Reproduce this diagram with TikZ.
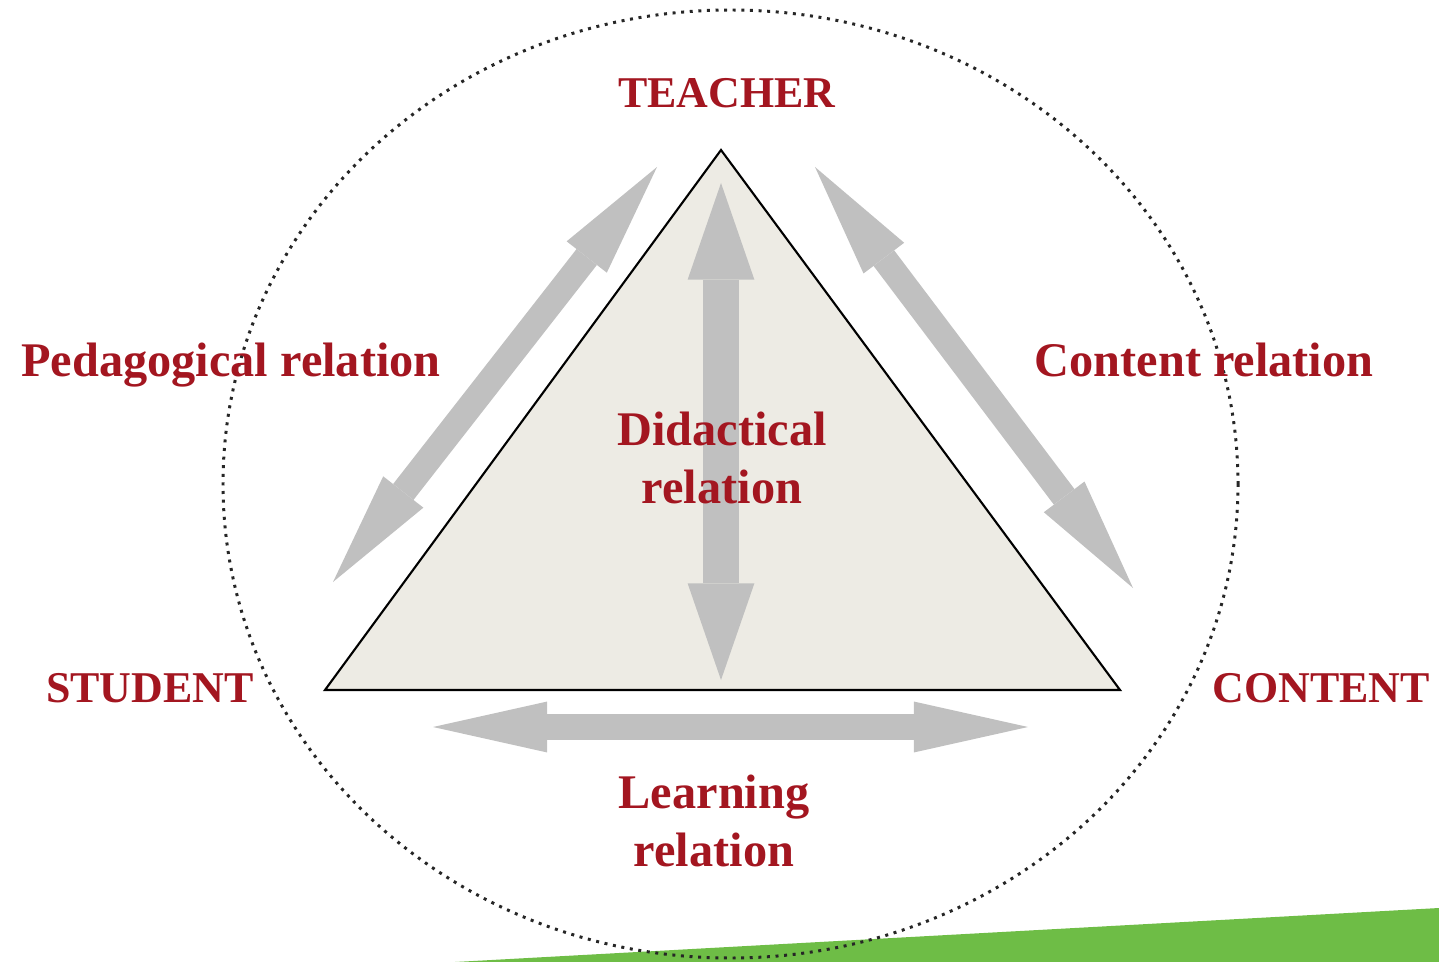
\documentclass[tikz,border=0pt]{standalone}
\usepackage{fontspec}
\setmainfont{Liberation Serif}
\usetikzlibrary{arrows.meta}
\definecolor{relred}{RGB}{163,22,32}
\definecolor{arrgray}{RGB}{192,192,192}
\definecolor{trifill}{RGB}{237,235,228}
\definecolor{stripe}{RGB}{110,189,70}
\tikzset{
	lbl/.style={text=relred, font=\fontsize{25}{30}\selectfont\bfseries, inner sep=0pt, anchor=base},
	rel/.style={lbl, font=\fontsize{27.5}{33}\selectfont\bfseries, align=center},
	fatarrow/.style={draw=arrgray, line width=14.7pt,
		{Triangle[length=65pt, width=29pt, line width=0pt]}-{Triangle[length=65pt, width=29pt, line width=0pt]}},
	bigarrow/.style={draw=arrgray, line width=20pt,
		{Triangle[length=55pt, width=38pt, line width=0pt]}-{Triangle[length=55pt, width=38pt, line width=0pt]}},
}

\begin{document}
\begin{tikzpicture}[x=0.02cm, y=-0.02cm]
	\useasboundingbox (0,0) rectangle (1439,962);
	\fill[stripe] (455,962) -- (1439,908) -- (1439,962) -- cycle;
	\draw[
	black!85, line width=1.7pt,
	dash pattern=on 1.7pt off 3.2pt,
	] (730.5,484) ellipse [x radius=507.5, y radius=474];
	\coordinate (apex) at (721,150);
	\coordinate (sw) at (325,690);
	\coordinate (se) at (1120,690);
	\draw[fill=trifill, line width=1.2pt] (apex) -- (sw) -- (se) -- cycle;
	\coordinate (ped1) at (333,582);
	\coordinate (ped2) at (657,167);
	\coordinate (con1) at (815,167);
	\coordinate (con2) at (1133,588);
	\coordinate (did1) at (721,183);
	\coordinate (did2) at (721,680);
	\coordinate (lea1) at (433,727);
	\coordinate (lea2) at (1028,727);
	\draw[fatarrow] (ped1) -- (ped2);
	\draw[fatarrow] (con1) -- (con2);
	\draw[bigarrow] (did1) -- (did2);
	\draw[fatarrow] (lea1) -- (lea2);
	\node[lbl] (teacher) at (727,108) {TEACHER};
	\node[lbl] (student) at (150,702) {STUDENT};
	\node[lbl] (content) at (1321,702) {CONTENT};
	\node[rel] (pedrel) at (231,377) {Pedagogical relation};
	\node[rel] (conrel) at (1204,377) {Content relation};
	\node[rel] (didrel) at (722,503) {Didactical\\relation};
	\node[rel] (learnrel) at (714,866) {Learning\\relation};
\end{tikzpicture}
\end{document}
